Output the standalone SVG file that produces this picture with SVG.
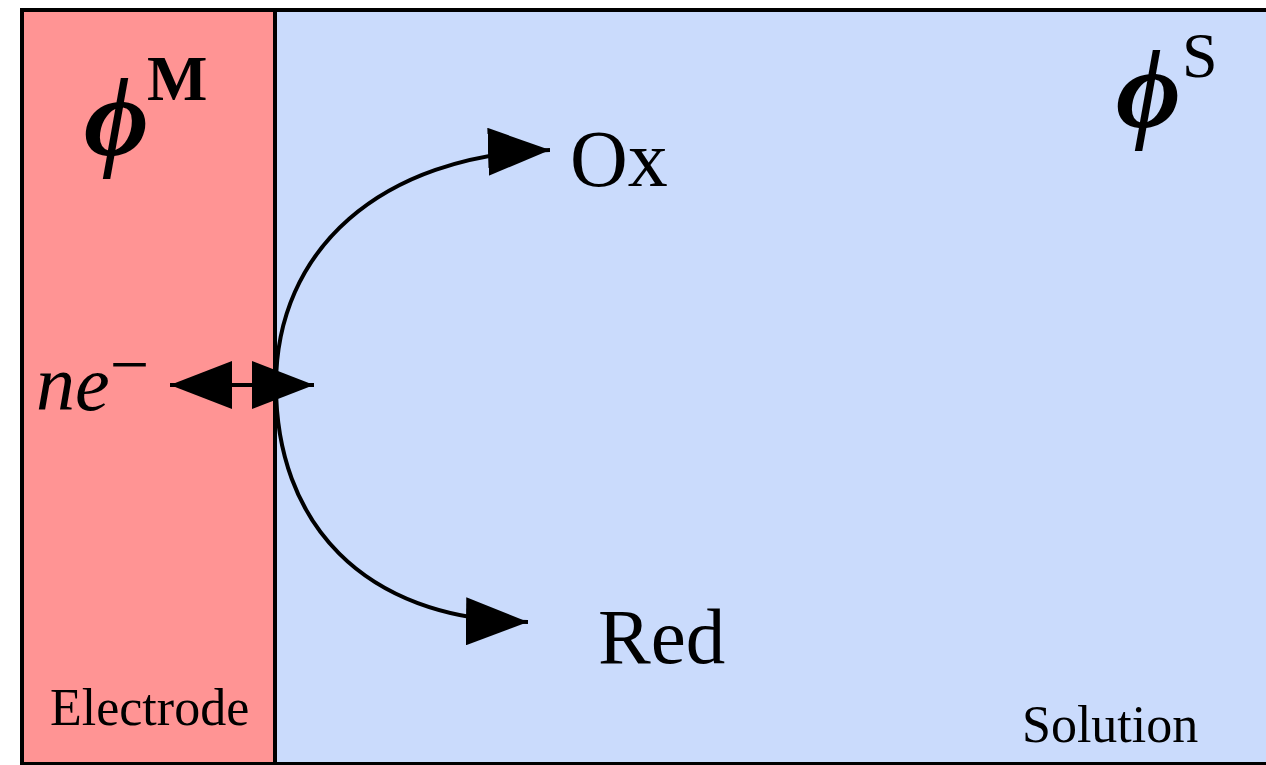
<svg xmlns="http://www.w3.org/2000/svg" width="1266" height="765" viewBox="0 0 1266 765">
<style>
text{font-family:"Liberation Serif","Times New Roman",serif;fill:#000}
.it{font-style:italic}
.phi{font-style:italic;font-weight:bold;font-size:112px}
.conn{fill:none;stroke:#000;stroke-width:4}
</style>
<defs>
<marker id="ah" markerUnits="userSpaceOnUse" markerWidth="64" markerHeight="48" refX="62" refY="24" orient="auto">
<path d="M0,0 L62,24 L0,48 Z" fill="#000"/>
</marker>
</defs>
<rect width="1266" height="765" fill="#fff"/>
<g id="solution">
<rect x="22" y="10" width="1260" height="754" fill="#CADBFC" stroke="#000" stroke-width="4"/>
<text x="1116" y="127" class="phi">ϕ</text>
<text x="1182" y="77" font-size="64">S</text>
<text x="1022" y="742" font-size="52">Solution</text>
</g>
<g id="electrode">
<rect x="22" y="10" width="253" height="754" fill="#FF9494" stroke="#000" stroke-width="4"/>
<text x="84" y="155" class="phi">ϕ</text>
<text x="147" y="100" font-size="64" font-weight="bold">M</text>
<text x="50" y="725" font-size="52">Electrode</text>
</g>
<g id="ne">
<text x="36" y="410" class="it" font-size="78">ne<tspan dy="-22" font-size="70" font-style="normal">−</tspan></text>
</g>
<g id="Ox"><text x="570" y="186" font-size="80">Ox</text></g>
<g id="Red"><text x="598" y="663" font-size="79">Red</text></g>
<g id="connectors">
<path class="conn" d="M276,385 C276,250 380,155 550,150" marker-end="url(#ah)"/>
<path class="conn" d="M276,385 C276,520 360,620 528,622" marker-end="url(#ah)"/>
<path class="conn" d="M240,385 L170,385" marker-end="url(#ah)"/>
<path class="conn" d="M240,385 L314,385" marker-end="url(#ah)"/>
</g>
</svg>
